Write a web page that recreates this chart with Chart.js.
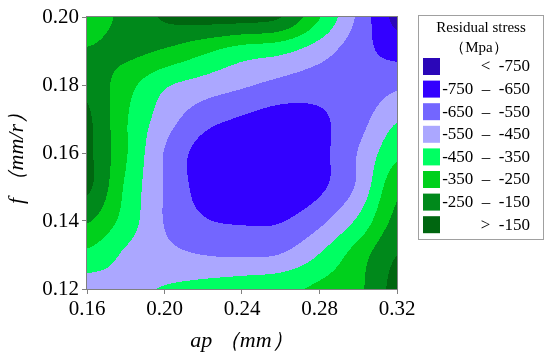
<!DOCTYPE html>
<html>
<head>
<meta charset="utf-8">
<script src="https://cdn.jsdelivr.net/npm/chart.js@4.4.1/dist/chart.umd.min.js"></script>
<style>
html, body { margin: 0; padding: 0; background: #fff; }
</style>
</head>
<body>
<canvas id="contour" width="550" height="357"></canvas>
<script>
// grid: ap (mm) across, f (mm/r) up
var apValues = [0.16, 0.18, 0.20, 0.22, 0.24, 0.26, 0.28, 0.30, 0.32];
var fValues = [0.12, 0.13, 0.14, 0.15, 0.16, 0.17, 0.18, 0.19, 0.20];
// residual stress (MPa), one row per f value, bottom to top
var stress = [
    [-500, -470, -445, -420, -395, -375, -330, -270, -115],
    [-375, -465, -520, -550, -560, -545, -445, -300, -150],
    [-240, -390, -555, -640, -660, -655, -575, -430, -220],
    [-130, -365, -555, -688, -720, -722, -670, -530, -275],
    [-128, -340, -555, -690, -728, -730, -680, -545, -375],
    [-133, -340, -500, -610, -660, -690, -665, -590, -460],
    [-175, -310, -435, -490, -535, -580, -610, -620, -570],
    [-242, -225, -262, -330, -395, -425, -505, -610, -685],
    [-300, -222, -138, -115, -115, -148, -345, -570, -780]
];
var levels = [-750, -650, -550, -450, -350, -250, -150];
var levelLabels = ['<  -750', '-750  \u2013  -650', '-650  \u2013  -550', '-550  \u2013  -450',
    '-450  \u2013  -350', '-350  \u2013  -250', '-250  \u2013  -150', '>  -150'];
var levelColors = ['#2b07b8', '#3300ff', '#7366ff', '#aba7ff', '#00ff62', '#00d01c', '#00891b', '#006610'];

var serif = "'Liberation Serif', 'Times New Roman', serif";

var nodes = [];
fValues.forEach(function (f, j) {
    apValues.forEach(function (ap, i) {
        nodes.push({ x: ap, y: f, v: stress[j][i] });
    });
});

function hexRgb(h) {
    return [parseInt(h.substr(1, 2), 16), parseInt(h.substr(3, 2), 16), parseInt(h.substr(5, 2), 16)];
}
var levelRgb = levelColors.map(hexRgb);

function cubic(p0, p1, p2, p3, t) {
    return p1 + 0.5 * t * (p2 - p0 + t * (2 * p0 - 5 * p1 + 4 * p2 - p3 + t * (3 * (p1 - p2) + p3 - p0)));
}
function cell(j, i) {
    j = Math.max(0, Math.min(fValues.length - 1, j));
    i = Math.max(0, Math.min(apValues.length - 1, i));
    return stress[j][i];
}
function sample(ap, f) {
    var gx = (ap - apValues[0]) / (apValues[1] - apValues[0]);
    var gy = (f - fValues[0]) / (fValues[1] - fValues[0]);
    var i = Math.min(Math.floor(gx), apValues.length - 2);
    var j = Math.min(Math.floor(gy), fValues.length - 2);
    var tx = gx - i, ty = gy - j;
    var col = [];
    for (var k = -1; k <= 2; k++) {
        col.push(cubic(cell(j + k, i - 1), cell(j + k, i), cell(j + k, i + 1), cell(j + k, i + 2), tx));
    }
    return cubic(col[0], col[1], col[2], col[3], ty);
}
function band(v) {
    var b = 0;
    levels.forEach(function (l) { if (v >= l) b++; });
    return b;
}

var contourFill = {
    id: 'contourFill',
    beforeDatasetsDraw: function (chart) {
        var ctx = chart.ctx, area = chart.chartArea;
        var xs = chart.scales.x, ys = chart.scales.y;
        var w = Math.round(area.right - area.left), h = Math.round(area.bottom - area.top);
        var off = document.createElement('canvas');
        off.width = w; off.height = h;
        var octx = off.getContext('2d');
        var img = octx.createImageData(w, h);
        for (var py = 0; py < h; py++) {
            var f = ys.getValueForPixel(area.top + py + 0.5);
            for (var px = 0; px < w; px++) {
                var ap = xs.getValueForPixel(area.left + px + 0.5);
                var c = levelRgb[band(sample(ap, f))];
                var k = (py * w + px) * 4;
                img.data[k] = c[0]; img.data[k + 1] = c[1]; img.data[k + 2] = c[2]; img.data[k + 3] = 255;
            }
        }
        octx.putImageData(img, 0, 0);
        ctx.drawImage(off, area.left, area.top);
    },
    afterDatasetsDraw: function (chart) {
        var ctx = chart.ctx, a = chart.chartArea;
        ctx.save();
        ctx.strokeStyle = '#808080';
        ctx.lineWidth = 1;
        ctx.strokeRect(Math.round(a.left) - 0.5, Math.round(a.top) - 0.5, Math.round(a.right - a.left) + 1, Math.round(a.bottom - a.top) + 1);
        ctx.restore();
    }
};

// boxed legend on the right
var stressLegend = {
    id: 'stressLegend',
    afterDraw: function (chart) {
        var ctx = chart.ctx;
        ctx.save();
        ctx.fillStyle = '#fff';
        ctx.fillRect(418.5, 15.5, 125, 224);
        ctx.strokeStyle = '#a0a0a0';
        ctx.lineWidth = 1;
        ctx.strokeRect(418.5, 15.5, 125, 224);
        ctx.fillStyle = '#000';
        ctx.textAlign = 'center';
        ctx.textBaseline = 'middle';
        ctx.font = '15px ' + serif;
        ctx.fillText('Residual stress', 481, 28);
        ctx.fillText('\uff08Mpa\uff09', 479, 48);
        ctx.font = '17px ' + serif;
        ctx.textAlign = 'right';
        levelLabels.forEach(function (lab, i) {
            var y = 58 + i * 22.6;
            ctx.fillStyle = levelColors[i];
            ctx.fillRect(423, y, 17, 17);
            ctx.fillStyle = '#000';
            ctx.fillText(lab, 530, y + 9);
        });
        ctx.restore();
    }
};

var chart = new Chart(document.getElementById('contour').getContext('2d'), {
    type: 'scatter',
    data: {
        datasets: [{
            label: 'Residual stress',
            data: nodes,
            pointRadius: 0,
            pointHoverRadius: 0
        }]
    },
    options: {
        responsive: false,
        animation: false,
        layout: { padding: { top: 17, right: 153, left: 0, bottom: 0 } },
        plugins: {
            legend: { display: false },
            tooltip: { enabled: false }
        },
        scales: {
            x: {
                type: 'linear',
                min: 0.16,
                max: 0.32,
                afterFit: function (s) { s.height = 68; },
                ticks: {
                    stepSize: 0.04,
                    maxRotation: 0,
                    padding: 3,
                    color: '#000',
                    font: { family: serif, size: 21 },
                    callback: function (v) { return v.toFixed(2); }
                },
                grid: { drawOnChartArea: false, tickLength: 5, color: '#808080' },
                border: { color: '#808080' },
                title: {
                    display: true,
                    text: 'ap \uff08mm\uff09',
                    color: '#000',
                    font: { family: serif, size: 22, style: 'italic' },
                    padding: { top: 0, bottom: 3 }
                }
            },
            y: {
                type: 'linear',
                min: 0.12,
                max: 0.20,
                afterFit: function (s) { s.width = 87; },
                ticks: {
                    stepSize: 0.02,
                    padding: 3,
                    color: '#000',
                    font: { family: serif, size: 21 },
                    callback: function (v) { return v.toFixed(2); }
                },
                grid: { drawOnChartArea: false, tickLength: 5, color: '#808080' },
                border: { color: '#808080' },
                title: {
                    display: true,
                    text: 'f \uff08mm/r\uff09',
                    color: '#000',
                    font: { family: serif, size: 22, style: 'italic' },
                    padding: { top: 4, bottom: 0 }
                }
            }
        }
    },
    plugins: [contourFill, stressLegend]
});
</script>
</body>
</html>
